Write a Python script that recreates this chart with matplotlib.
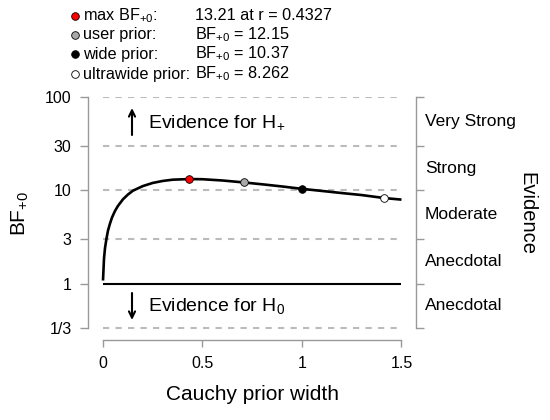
import numpy as np
import matplotlib.pyplot as plt
from matplotlib.lines import Line2D
from matplotlib.ticker import NullLocator
import matplotlib.transforms as mtransforms

plt.rcParams['font.family'] = ['Liberation Sans', 'DejaVu Sans']
plt.rcParams['mathtext.fontset'] = 'custom'
plt.rcParams['mathtext.rm'] = 'Liberation Sans'
plt.rcParams['mathtext.it'] = 'Liberation Sans:italic'
plt.rcParams['mathtext.bf'] = 'Liberation Sans:bold'

# robustness curve
r = [0.0, 0.005, 0.01, 0.017, 0.025, 0.035, 0.045, 0.06, 0.075, 0.1, 0.125,
     0.15, 0.2, 0.25, 0.3, 0.35, 0.4327, 0.5, 0.6, 0.7071, 0.8, 0.9, 1.0,
     1.1, 1.2, 1.3, 1.4142, 1.5]
bf = [1.08, 1.85, 2.4, 3.0, 3.7, 4.4, 5.1, 6.0, 6.8, 8.0, 9.0,
      9.9, 11.1, 12.0, 12.6, 13.0, 13.21, 13.15, 12.75, 12.15, 11.6, 11.0, 10.37,
      9.85, 9.35, 8.9, 8.262, 7.95]

point_r = [0.4327, 0.7071, 1.0, 1.4142]
point_bf = [13.21, 12.15, 10.37, 8.262]
point_fill = ['red', 'darkgray', 'black', 'white']
legend_names = ['max BF$_{+0}$:', 'user prior:', 'wide prior:', 'ultrawide prior:']
legend_vals = ['13.21 at r = 0.4327', 'BF$_{+0}$ = 12.15',
               'BF$_{+0}$ = 10.37', 'BF$_{+0}$ = 8.262']

yticks = [1/3, 1, 3, 10, 30, 100]
ytick_labels = ['1/3', '1', '3', '10', '30', '100']
grid_y = [1/3, 3, 10, 30, 100]
xticks = [0, 0.5, 1, 1.5]
xtick_labels = ['0', '0.5', '1', '1.5']
evidence_labels = ['Anecdotal', 'Anecdotal', 'Moderate', 'Strong', 'Very Strong']

W, H = 550, 420
gray = '#999999'

fig = plt.figure(figsize=(W / 100, H / 100), dpi=100)
ax = fig.add_axes([88 / W, 1 - 340 / H, (416 - 88) / W, (340 - 97) / H])
ax.set_yscale('log')
ax.set_xlim(-0.0754, 1.573)
ax.set_ylim(0.249, 100)

ax.hlines(grid_y, 0, 1.5, colors='#bbbbbb', linestyles=(0, (3, 3)), lw=1.5)
ax.hlines(1, 0, 1.5, colors='black', lw=1.5)
ax.plot(r, bf, color='black', lw=1.9, solid_capstyle='butt')
for x, y, c in zip(point_r, point_bf, point_fill):
    ax.plot(x, y, 'o', ms=5.5, mfc=c, mec='black', mew=0.6, zorder=5)

# axes in R style
ax.spines['top'].set_visible(False)
for s in ['left', 'right', 'bottom']:
    ax.spines[s].set_color(gray)
    ax.spines[s].set_linewidth(1)
ax.spines['left'].set_bounds(1/3, 100)
ax.spines['right'].set_bounds(1/3, 100)
ax.spines['bottom'].set_bounds(0, 1.5)

ax.set_yticks(yticks)
ax.set_yticklabels(ytick_labels)
ax.yaxis.set_minor_locator(NullLocator())
ax.set_xticks(xticks)
ax.set_xticklabels(xtick_labels)
ax.tick_params(axis='y', direction='out', length=5.8, width=1, color=gray,
               labelsize=11.5, pad=6, left=True, right=True, labelright=False)
ax.tick_params(axis='x', direction='out', length=5, width=1, color=gray,
               labelsize=11.5, pad=6.5)

ax.set_xlabel('Cauchy prior width', fontsize=15)
ax.xaxis.set_label_coords((252 - 88) / (416 - 88), -(395 - 340) / (340 - 97))
ax.xaxis.label.set_va('center')
ax.set_ylabel('BF$_{+0}$', fontsize=15)
ax.yaxis.set_label_coords(-(88 - 20) / (416 - 88), (340 - 213) / (340 - 97))
ax.yaxis.label.set_va('center')

# evidence categories on the right
trans = mtransforms.blended_transform_factory(ax.transAxes, ax.transData)
for lo, hi, lab in zip(yticks[:-1], yticks[1:], evidence_labels):
    ax.text((425 - 88) / (416 - 88), np.sqrt(lo * hi), lab, transform=trans,
            ha='left', va='center', fontsize=12.5)
fig.text(527 / W, 1 - 213 / H, 'Evidence', rotation=270, ha='center',
         va='center', fontsize=14.5)

# evidence arrows
fig.text(148 / W, 1 - 122 / H, 'Evidence for H$_{+}$', ha='left', va='center',
         fontsize=14)
fig.text(148 / W, 1 - 306 / H, 'Evidence for H$_{0}$', ha='left', va='center',
         fontsize=14)
ax.annotate('', xy=(132 / W, 1 - 108 / H), xytext=(132 / W, 1 - 135 / H),
            xycoords='figure fraction', textcoords='figure fraction',
            arrowprops=dict(arrowstyle='->,head_length=0.45,head_width=0.22',
                            lw=1.5, color='black', shrinkA=0, shrinkB=0))
ax.annotate('', xy=(132 / W, 1 - 320 / H), xytext=(132 / W, 1 - 293 / H),
            xycoords='figure fraction', textcoords='figure fraction',
            arrowprops=dict(arrowstyle='->,head_length=0.45,head_width=0.22',
                            lw=1.5, color='black', shrinkA=0, shrinkB=0))

# legend block at the top
rows_y = [16, 35, 54, 74]
for yy, c, name, val in zip(rows_y, point_fill, legend_names, legend_vals):
    fig.add_artist(Line2D([75 / W], [1 - yy / H], marker='o', ms=5.5, mfc=c,
                          mec='black', mew=0.6, transform=fig.transFigure))
    fig.text(83 / W, 1 - yy / H, name, ha='left', va='center', fontsize=11.7)
    fig.text(195 / W, 1 - yy / H, val, ha='left', va='center', fontsize=11.7)

fig.savefig('out.png', dpi=100)
